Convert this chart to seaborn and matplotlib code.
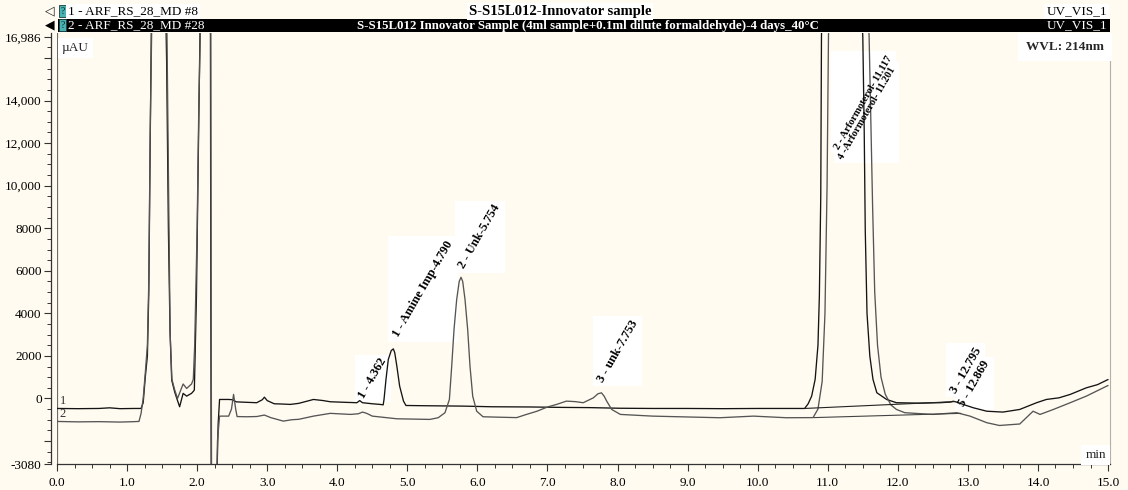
import numpy as np
import pandas as pd
import matplotlib
matplotlib.use("Agg")
import matplotlib.pyplot as plt
import seaborn as sns
from matplotlib.patches import Rectangle

# chromatogram traces (min, uAU)
time_1 = [0.00, 0.30, 0.60, 0.75, 0.90, 1.10, 1.20, 1.23, 1.26, 1.29, 1.31, 1.33, 1.345, 1.40, 1.50,
          1.565, 1.59, 1.613, 1.637, 1.68, 1.72, 1.75, 1.80, 1.85, 1.92, 1.95, 1.96, 1.99, 2.015, 2.04,
          2.10, 2.17, 2.19, 2.195, 2.20, 2.21, 2.27, 2.28, 2.30, 2.32, 2.45, 2.50, 2.56, 2.70, 2.85,
          2.93, 2.96, 3.00, 3.10, 3.20, 3.33, 3.45, 3.60, 3.66, 3.80, 3.90, 4.10, 4.28, 4.32, 4.36,
          4.50, 4.61, 4.655, 4.667, 4.695, 4.728, 4.77, 4.80, 4.82, 4.85, 4.89, 4.945, 4.98, 5.20,
          5.50, 5.80, 6.20, 6.75, 7.20, 7.60, 8.03, 8.50, 9.00, 9.50, 10.00, 10.40, 10.67, 10.72,
          10.77, 10.82, 10.86, 10.88, 10.90, 10.91, 11.117, 11.50, 11.52, 11.535, 11.56, 11.60,
          11.645, 11.70, 11.84, 11.98, 12.30, 12.60, 12.75, 12.79, 12.85, 12.95, 13.08, 13.27,
          13.50, 13.74, 13.98, 14.12, 14.30, 14.46, 14.69, 14.85, 15.00]
signal_1 = [-470, -480, -470, -440, -480, -470, -470, -200, 1000, 2000, 5000, 12000, 17000, 30000, 28000,
            15760, 7900, 3200, 860, 300, -100, -390, 240, 110, 240, 350, 400, 4780, 11050, 17000,
            30000, 25000, 17000, 5000, -3000, -9000, -9000, -4000, -1200, -47, -47, -60, -160, -180, -200,
            -60, 60, -100, -250, -260, -280, -230, -100, -47, -100, -155, -180, -200, -100, -200,
            -250, -280, -300, -47, 890, 1830, 2250, 2330, 2150, 1520, 580, -125, -330, -340,
            -350, -360, -390, -400, -420, -430, -460, -470, -470, -480, -470, -470, -470, -250,
            110, 900, 2500, 4800, 9500, 17000, 45000, 17000, 12600, 7900, 4000, 2000,
            900, 270, -47, -200, -220, -200, -170, -130, -180, -300, -440, -600,
            -640, -516, -200, -47, 30, 190, 500, 650, 890]

time_2 = [0.00, 0.30, 0.60, 0.90, 1.10, 1.17, 1.20, 1.23, 1.26, 1.29, 1.31, 1.33, 1.35, 1.40, 1.50,
          1.57, 1.595, 1.615, 1.64, 1.68, 1.72, 1.80, 1.85, 1.92, 1.945, 1.965, 2.00, 2.025, 2.045,
          2.10, 2.17, 2.195, 2.20, 2.205, 2.215, 2.265, 2.275, 2.29, 2.32, 2.45, 2.49, 2.52, 2.55,
          2.57, 2.70, 2.85, 2.96, 3.05, 3.23, 3.35, 3.45, 3.66, 3.90, 4.19, 4.30, 4.36, 4.42, 4.50,
          4.85, 5.32, 5.44, 5.537, 5.60, 5.633, 5.666, 5.704, 5.74, 5.766, 5.79, 5.823, 5.861,
          5.894, 5.933, 5.99, 6.08, 6.30, 6.56, 6.70, 6.85, 7.00, 7.13, 7.27, 7.40, 7.51, 7.655,
          7.72, 7.77, 7.81, 7.845, 7.916, 8.04, 8.50, 9.00, 9.46, 9.94, 10.41, 10.79, 10.86, 10.92,
          10.96, 10.99, 11.01, 11.201, 11.59, 11.64, 11.67, 11.71, 11.76, 11.82, 11.90, 11.98,
          12.10, 12.50, 12.84, 13.03, 13.27, 13.45, 13.74, 13.93, 14.03, 14.22, 14.46, 14.69, 15.00]
signal_2 = [-1080, -1100, -1090, -1110, -1090, -1080, -700, 0, 1200, 2500, 5500, 12500, 17000, 30000, 28000,
            17000, 9000, 3000, 900, 400, 0, 680, 470, 680, 900, 2500, 8000, 14000, 17000,
            30000, 25000, 17000, 5000, -3000, -9000, -9000, -5000, -2000, -830, -830, -500, 190, -500,
            -850, -860, -850, -780, -900, -1065, -1000, -980, -830, -700, -750, -720, -640, -700, -830,
            -955, -985, -906, -670, -47, 1517, 3238, 4646, 5500, 5693, 5500, 4646, 3238,
            1517, 100, -600, -860, -880, -900, -750, -600, -400, -280, -125, -150, -200, 30,
            220, 265, 100, -125, -516, -750, -830, -870, -906, -830, -906, -900, -500, 800,
            4000, 10000, 17000, 45000, 17000, 9000, 5000, 2500, 1000, 200, -300, -516,
            -670, -750, -670, -830, -1140, -1270, -1200, -600, -750, -516, -200, 110, 610]

# drop baselines under the arformoterol peaks
base_1_time = [10.67, 12.80]
base_1_signal = [-470, -150]
base_2_time = [10.80, 12.90]
base_2_signal = [-900, -700]

peak_labels = ["1 - 4.362", "1 - Amine Imp-4.790", "2 - Unk-5.754", "3 - unk-7.753",
               "2 - Arformoterol- 11.117", "4 -Arformoterol- 11.201", "3 - 12.795", "5 - 12.869"]
peak_times = [4.362, 4.790, 5.754, 7.753, 11.117, 11.201, 12.795, 12.869]

x_ticks = list(range(16))
x_labels = ["%.1f" % v for v in x_ticks]
y_ticks = [-3080, -2000, 0, 2000, 4000, 6000, 8000, 10000, 12000, 14000, 16000, 16986]
y_labels = ["-3080", "", "0", "2000", "4000", "6000", "8000", "10,000", "12,000", "14,000", "", "16,986"]

W, H = 1128, 490
bg = "#FFFBF0"
serif = ["Liberation Serif", "DejaVu Sans"]

sns.set_theme(style="white")
plt.rcParams["font.family"] = serif

df = pd.concat([
    pd.DataFrame({"time": time_1, "signal": signal_1, "trace": "1"}),
    pd.DataFrame({"time": time_2, "signal": signal_2, "trace": "2"}),
])

fig = plt.figure(figsize=(W / 100, H / 100), dpi=100, facecolor=bg)
ax = fig.add_axes([57 / W, 1 - 464 / H, 1053 / W, (464 - 33) / H])
ax.set_facecolor(bg)

sns.lineplot(data=df, x="time", y="signal", hue="trace", palette={"1": "#141414", "2": "#555555"},
             estimator=None, sort=False, legend=False, linewidth=0.95, ax=ax, zorder=2)
ax.plot(base_1_time, base_1_signal, color="#222222", lw=0.8, zorder=2)
ax.plot(base_2_time, base_2_signal, color="#444444", lw=0.8, zorder=2)

ax.set_xlim(0, 1053 / 70.07)
ax.set_ylim(-3080, 16986 + 4 * 47)
ax.set_xlabel("")
ax.set_ylabel("")

ax.set_xticks(x_ticks)
ax.set_xticklabels(x_labels)
ax.set_xticks(np.arange(0, 15.01, 0.25), minor=True)
ax.set_yticks(y_ticks)
ax.set_yticklabels(y_labels)
ax.set_yticks([v for v in range(-3000, 16600, 500) if v % 2000 != 0], minor=True)
ax.tick_params(axis="both", which="major", length=5, width=0.8, color="#333333",
               labelsize=9.5, pad=2, labelcolor="black", direction="out")
ax.tick_params(axis="both", which="minor", length=3, width=0.7, color="#333333", direction="out")
ax.tick_params(axis="x", which="major", pad=4)
ax.tick_params(left=True, bottom=True, which="both")

ax.spines["top"].set_visible(False)
ax.spines["left"].set_position(("outward", 4))
ax.spines["left"].set_color("#333333")
ax.spines["left"].set_linewidth(0.9)
ax.spines["bottom"].set_color("#333333")
ax.spines["bottom"].set_linewidth(0.9)
ax.spines["right"].set_color("#b0b0b0")
ax.spines["right"].set_linewidth(0.8)
ax.axvline(0, color="#6a6a6a", lw=1.6, zorder=1.5)

# peak labels, rotated like the software prints them
label_pos = [(4.35, 30), (4.84, 2925), (5.776, 6135), (7.75, 810),
             (11.13, 11755), (11.18, 11285), (12.786, 296), (12.91, -343)]
texts = []
for lab, (lx, ly) in zip(peak_labels, label_pos):
    fs = 7.5 if "Arformoterol" in lab else 9
    t = ax.text(lx, ly, lab, rotation=60, rotation_mode="anchor", ha="left", va="center",
                fontsize=fs, fontweight="bold", color="black", zorder=4, clip_on=False)
    texts.append(t)

# trace numbers at the left edge
ax.text(0.04, -108, "1", fontsize=9, color="#333333", va="center", ha="left", zorder=4)
ax.text(0.04, -733, "2", fontsize=9, color="#333333", va="center", ha="left", zorder=4)

ax.text(5 / 1053, 1 - 15 / 431, "\u00b5AU", transform=ax.transAxes, fontsize=9.5, ha="left", va="center",
        zorder=4, bbox=dict(boxstyle="square,pad=0.3", fc="white", ec="none"))
ax.text(1 - 6 / 1053, 1 - 14 / 431, "WVL: 214nm", transform=ax.transAxes, fontsize=9.5, fontweight="bold",
        ha="right", va="center", zorder=4, bbox=dict(boxstyle="square,pad=0.6", fc="white", ec="none"))
ax.text(1 - 4 / 1053, 9 / 431, "min", transform=ax.transAxes, fontsize=9.5, ha="right", va="center",
        zorder=4, bbox=dict(boxstyle="square,pad=0.3", fc="white", ec="none"))

# header rows
def fx(px):
    return px / W


def fy(py):
    return 1 - py / H


fig.patches.append(Rectangle((fx(58), fy(32)), fx(1052), 13 / H, transform=fig.transFigure,
                             fc="black", ec="none", zorder=0))
for py in (11.5, 25.5):
    fig.patches.append(Rectangle((fx(59), fy(py + 6)), fx(7), 12 / H, transform=fig.transFigure,
                                 fc="#49b3b3", ec="#1c3c3c", lw=0.6, zorder=1))
    fig.text(fx(62.5), fy(py), "?", fontsize=7, color="#102020", ha="center", va="center", zorder=2)

fig.text(fx(45), fy(11.5), "\u25c1", fontsize=9, ha="left", va="center", color="#222222")
fig.text(fx(45), fy(25.5), "\u25c0", fontsize=9, ha="left", va="center", color="black")

fig.text(fx(68), fy(11.5), "1 - ARF_RS_28_MD #8", fontsize=9.5, ha="left", va="center", color="black",
         bbox=dict(boxstyle="square,pad=0.15", fc="white", ec="none"))
fig.text(fx(560), fy(11.5), "S-S15L012-Innovator sample", fontsize=10.5, fontweight="bold", ha="center",
         va="center", color="black", bbox=dict(boxstyle="square,pad=0.15", fc="white", ec="none"))
fig.text(fx(1107), fy(11.5), "UV_VIS_1", fontsize=9.5, ha="right", va="center", color="black",
         bbox=dict(boxstyle="square,pad=0.15", fc="white", ec="none"))
fig.text(fx(68), fy(25.5), "2 - ARF_RS_28_MD #28", fontsize=9.5, ha="left", va="center", color="white")
fig.text(fx(588), fy(25.5), "S-S15L012 Innovator Sample (4ml sample+0.1ml dilute formaldehyde)-4 days_40\u00b0C",
         fontsize=9.3, fontweight="bold", ha="center", va="center", color="white")
fig.text(fx(1107), fy(25.5), "UV_VIS_1", fontsize=9.5, ha="right", va="center", color="white")

# white boxes behind the peak labels (axis aligned, as in the original)
fig.canvas.draw()
renderer = fig.canvas.get_renderer()
inv = ax.transData.inverted()
for t in texts:
    bb = t.get_window_extent(renderer).expanded(1.08, 1.06)
    (x0, y0), (x1, y1) = inv.transform([(bb.x0, bb.y0), (bb.x1, bb.y1)])
    ax.add_patch(Rectangle((x0, y0), x1 - x0, y1 - y0, fc="white", ec="none", zorder=1, clip_on=False))

fig.savefig("out.png", dpi=100, facecolor=bg)
